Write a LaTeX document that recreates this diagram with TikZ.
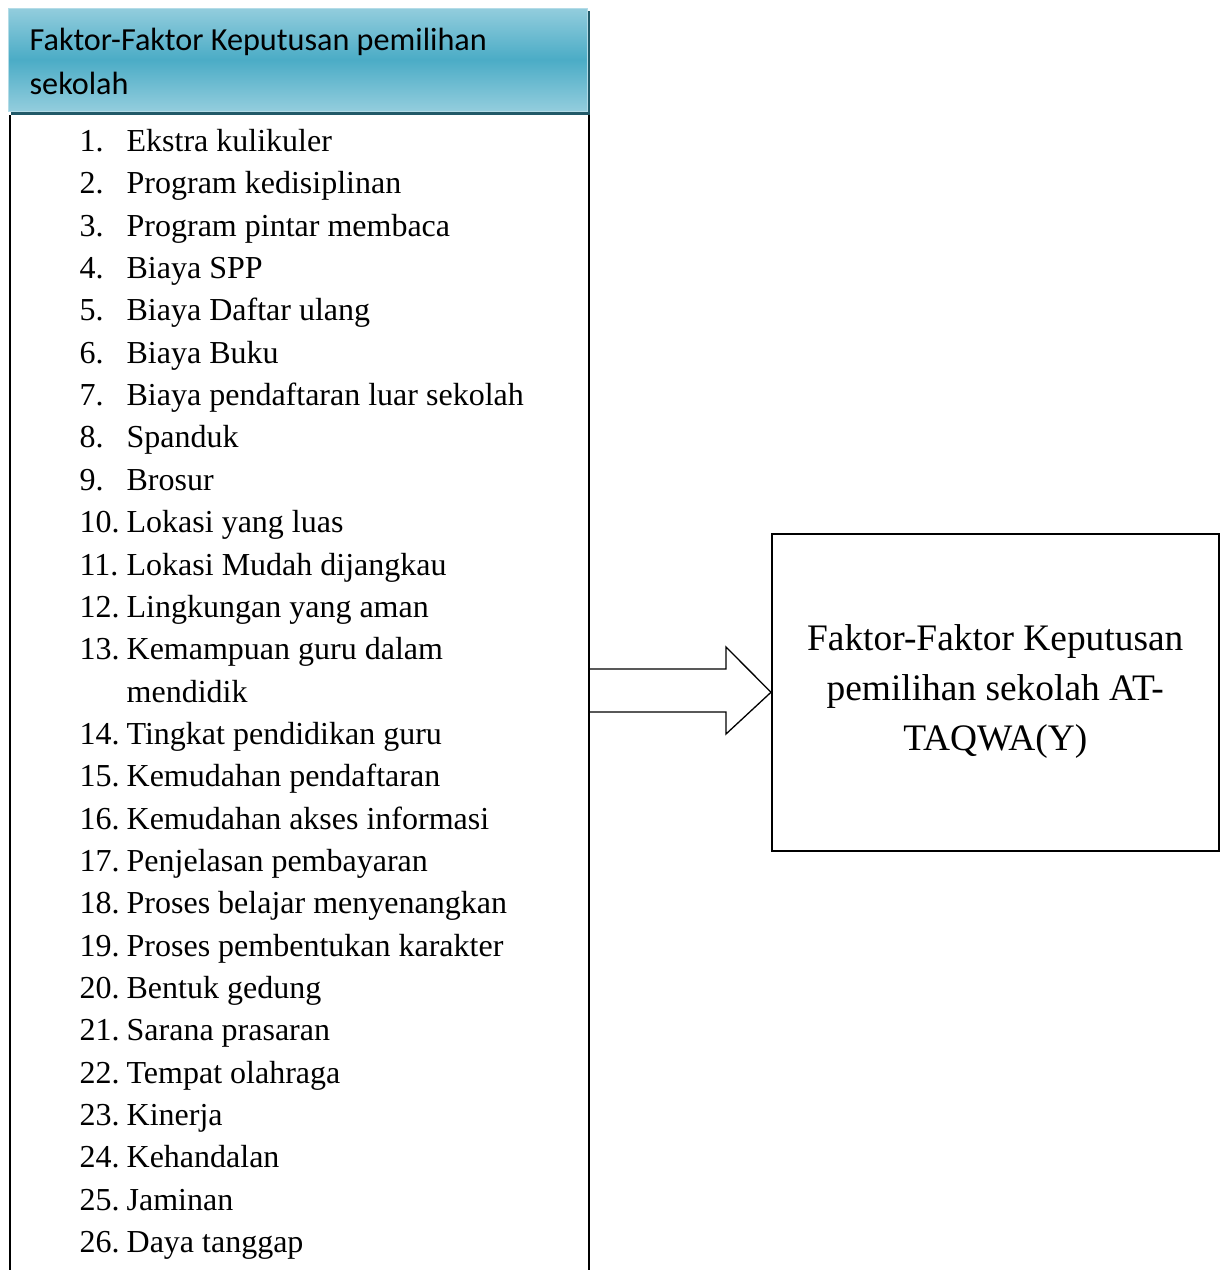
\documentclass[tikz,border=0pt]{standalone}
\usepackage{fontspec}
\setmainfont{Liberation Serif}
\newfontfamily\hdrfont{Carlito}
\definecolor{hdrlight}{HTML}{93CDDD}
\definecolor{hdrmid}{HTML}{4BACC6}
\definecolor{shadowc}{HTML}{215968}
\begin{document}
\begin{tikzpicture}[x=1pt,y=-1pt,line width=1.3pt,
  itemnum/.style={anchor=base west,inner sep=0pt,font=\fontsize{32}{42}\selectfont},
  itemtxt/.style={anchor=base west,inner sep=0pt,font=\fontsize{32}{42}\selectfont},
  hdrtxt/.style={anchor=base west,inner sep=0pt,font=\hdrfont\fontsize{32.2}{44}\selectfont}]
\useasboundingbox (0,0) rectangle (1221,1270);
% header
\fill[shadowc] (11,11) rectangle (590,115);
\shade[top color=hdrlight,bottom color=hdrlight,middle color=hdrmid] (8,8) rectangle (587,111);
\draw[hdrlight!70!white,line width=0.8pt] (8,8) rectangle (587,111);
\node[hdrtxt] (h1) at (29,50) {Faktor-Faktor Keputusan pemilihan};
\node[hdrtxt] (h2) at (29,94) {sekolah};
% list box (no bottom edge visible)
\coordinate (lbtl) at (10,115);
\coordinate (lbtr) at (589,115);
\draw (lbtl) -- (10,1270);
\draw (lbtr) -- (589,1270);
% items
\foreach \n/\t [count=\k from 0] in {
 1./Ekstra kulikuler,
 2./Program kedisiplinan,
 3./Program pintar membaca,
 4./Biaya SPP,
 5./Biaya Daftar ulang,
 6./Biaya Buku,
 7./Biaya pendaftaran luar sekolah,
 8./Spanduk,
 9./Brosur,
 10./Lokasi yang luas,
 11./Lokasi Mudah dijangkau,
 12./Lingkungan yang aman,
 13./Kemampuan guru dalam,
 /mendidik,
 14./Tingkat pendidikan guru,
 15./Kemudahan pendaftaran,
 16./Kemudahan akses informasi,
 17./Penjelasan pembayaran,
 18./Proses belajar menyenangkan,
 19./Proses pembentukan karakter,
 20./Bentuk gedung,
 21./Sarana prasaran,
 22./Tempat olahraga,
 23./Kinerja,
 24./Kehandalan,
 25./Jaminan,
 26./Daya tanggap}{
  \pgfmathsetmacro{\yy}{151.5+42.35*\k}
  \node[itemnum] (n\k) at (79,\yy) {\n};
  \node[itemtxt] (t\k) at (126,\yy) {\t};
}
% target box
\node[draw,line width=1.5pt,minimum width=447pt,minimum height=317pt,anchor=north west,inner sep=0pt] (target) at (771,533) {};
\node[align=center,inner sep=0pt,font=\fontsize{37.4}{50}\selectfont] (ttxt) at ([yshift=1pt]target.center) {Faktor-Faktor Keputusan\\pemilihan sekolah AT-\\TAQWA(Y)};
% block arrow
\coordinate (a0) at (590,669);
\coordinate (a1) at (590,712);
\draw[fill=white,line join=miter] (a0) -- (726,669) -- (726,647) -- (target.west) -- (726,734) -- (726,712) -- (a1);
\end{tikzpicture}
\end{document}
